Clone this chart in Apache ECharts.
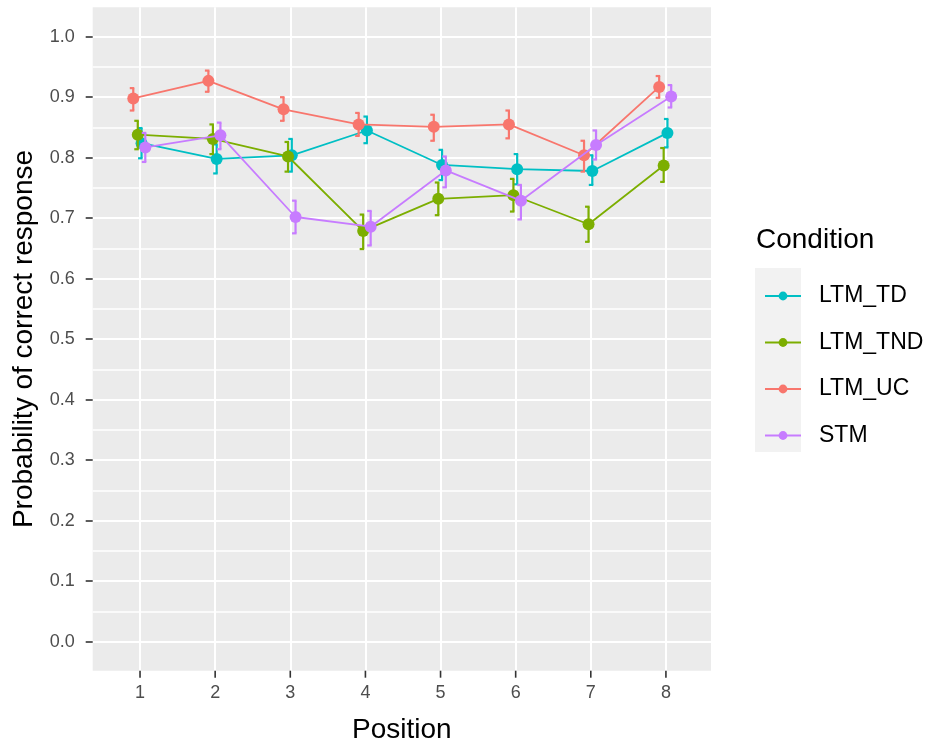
<!DOCTYPE html>
<html><head><meta charset="utf-8">
<script src="https://cdn.jsdelivr.net/npm/echarts@6/dist/echarts.min.js"></script>
<style>html,body{margin:0;padding:0;background:#fff}#c{width:927px;height:747px}</style>
</head><body><div id="c"></div>
<script>
// ---- data ----
const positions = [1, 2, 3, 4, 5, 6, 7, 8];
const conditions = ['LTM_TD', 'LTM_TND', 'LTM_UC', 'STM'];
const colors = ['#00BFC4', '#7CAE00', '#F8766D', '#C77CFF'];
const dodge = [0.02, -0.03, -0.09, 0.07];

const meanTD  = [0.824, 0.798, 0.804, 0.845, 0.788, 0.781, 0.778, 0.841];
const loTD    = [0.799, 0.774, 0.777, 0.824, 0.763, 0.756, 0.755, 0.817];
const hiTD    = [0.849, 0.822, 0.831, 0.868, 0.813, 0.806, 0.804, 0.864];

const meanTND = [0.838, 0.831, 0.802, 0.679, 0.732, 0.738, 0.690, 0.787];
const loTND   = [0.814, 0.806, 0.777, 0.649, 0.705, 0.711, 0.661, 0.760];
const hiTND   = [0.861, 0.855, 0.826, 0.706, 0.759, 0.765, 0.719, 0.816];

const meanUC  = [0.898, 0.927, 0.880, 0.855, 0.851, 0.855, 0.804, 0.917];
const loUC    = [0.878, 0.909, 0.861, 0.836, 0.828, 0.832, 0.777, 0.899];
const hiUC    = [0.915, 0.944, 0.900, 0.874, 0.871, 0.878, 0.828, 0.935];

const meanSTM = [0.817, 0.837, 0.702, 0.686, 0.779, 0.729, 0.821, 0.901];
const loSTM   = [0.793, 0.814, 0.675, 0.655, 0.751, 0.698, 0.797, 0.883];
const hiSTM   = [0.841, 0.858, 0.729, 0.712, 0.802, 0.755, 0.845, 0.920];

const yTicks = [0.0, 0.1, 0.2, 0.3, 0.4, 0.5, 0.6, 0.7, 0.8, 0.9, 1.0];
const yMinorTicks = [0.05, 0.15, 0.25, 0.35, 0.45, 0.55, 0.65, 0.75, 0.85, 0.95];
const X_MIN = 0.37, X_MAX = 8.6, Y_MIN = -0.0479, Y_MAX = 1.0486;

const means = [meanTD, meanTND, meanUC, meanSTM];
const los = [loTD, loTND, loUC, loSTM];
const his = [hiTD, hiTND, hiUC, hiSTM];

// ---- chart ----
const FONT = 'Liberation Sans, Arial, sans-serif';
const GRID = {left: 92.7, right: 216, top: 7.3, bottom: 76.3};
const chart = echarts.init(document.getElementById('c'), null, {renderer: 'canvas'});

const series = [];
conditions.forEach((name, k) => {
  series.push({
    name: name,
    type: 'line',
    xAxisIndex: 0, yAxisIndex: 0,
    data: positions.map((p, i) => [p + dodge[k], means[k][i]]),
    symbol: 'circle',
    symbolSize: 12,
    itemStyle: {color: colors[k]},
    lineStyle: {color: colors[k], width: 1.8},
    z: 3 + k,
    animation: false
  });
});
conditions.forEach((name, k) => {
  series.push({
    name: name + ' error',
    type: 'custom',
    xAxisIndex: 0, yAxisIndex: 0,
    data: positions.map((p, i) => [p + dodge[k], los[k][i], his[k][i]]),
    encode: {x: 0, y: [1, 2]},
    z: 3 + k,
    silent: true,
    animation: false,
    renderItem: function (params, api) {
      const x = api.value(0);
      const pLo = api.coord([x, api.value(1)]);
      const pHi = api.coord([x, api.value(2)]);
      const st = {stroke: colors[k], lineWidth: 2.2};
      return {type: 'group', children: [
        {type: 'line', shape: {x1: pLo[0], y1: pLo[1], x2: pHi[0], y2: pHi[1]}, style: st},
        {type: 'line', shape: {x1: pHi[0] - 3.5, y1: pHi[1], x2: pHi[0] + 1, y2: pHi[1]}, style: st},
        {type: 'line', shape: {x1: pLo[0] - 3.5, y1: pLo[1], x2: pLo[0] + 1, y2: pLo[1]}, style: st}
      ]};
    }
  });
});

const baseGraphic = [
  {type: 'rect', left: 755, top: 268, z: -1, shape: {width: 46, height: 184}, style: {fill: '#F2F2F2'}},
  {type: 'text', left: 756, top: 226, style: {text: 'Condition', font: '28px ' + FONT, fill: '#000'}}
];

chart.setOption({
  backgroundColor: '#ffffff',
  animation: false,
  textStyle: {fontFamily: FONT},
  grid: {left: GRID.left, right: GRID.right, top: GRID.top, bottom: GRID.bottom, show: true,
         backgroundColor: '#EBEBEB', borderWidth: 0, containLabel: false, outerBoundsMode: 'none'},
  xAxis: [{
    type: 'value', min: X_MIN, max: X_MAX, position: 'bottom',
    name: 'Position', nameLocation: 'middle', nameGap: 46,
    nameTextStyle: {fontSize: 28, color: '#000', fontFamily: FONT},
    axisLine: {show: false, onZero: false},
    axisTick: {show: false, customValues: positions},
    axisLabel: {show: true, customValues: positions, margin: 13, fontSize: 18, color: '#4D4D4D', fontFamily: FONT,
                formatter: v => String(v)},
    splitLine: {show: true, lineStyle: {color: '#FFFFFF', width: 2}}
  }],
  yAxis: [{
    type: 'value', min: Y_MIN, max: Y_MAX,
    name: 'Probability of correct response', nameLocation: 'middle', nameGap: 53, nameRotate: 90,
    nameTextStyle: {fontSize: 28, color: '#000', fontFamily: FONT},
    axisLine: {show: true, onZero: false, lineStyle: {color: 'rgba(0,0,0,0)', width: 0}},
    axisTick: {show: true, inside: false, customValues: yTicks, length: 7, lineStyle: {color: '#333333', width: 1.6}},
    axisLabel: {show: true, customValues: yTicks, margin: 18, fontSize: 18, color: '#4D4D4D', fontFamily: FONT,
                formatter: v => v.toFixed(1)},
    splitLine: {show: true, lineStyle: {color: '#FFFFFF', width: 2}}
  }, {
    type: 'value', min: Y_MIN, max: Y_MAX, position: 'left',
    axisLine: {show: false, onZero: false},
    axisTick: {show: false, customValues: yMinorTicks},
    axisLabel: {show: false, customValues: yMinorTicks},
    splitLine: {show: true, lineStyle: {color: '#FFFFFF', width: 1.5}}
  }],
  legend: {
    data: conditions,
    orient: 'vertical',
    left: 759, top: 277,
    itemWidth: 36, itemHeight: 11, itemGap: 18.5,
    selectedMode: false,
    textStyle: {fontSize: 23, color: '#000', fontFamily: FONT, lineHeight: 28, padding: [0, 0, 0, 13]}
  },
  graphic: baseGraphic,
  series: series
});

// x-axis tick marks below the panel; x from the chart's own x scale
try {
  const yBottom = 747 - GRID.bottom;
  const tickGraphic = positions.map(p => {
    const x = chart.convertToPixel({xAxisIndex: 0}, p);
    return {type: 'rect', z: 100, silent: true,
            shape: {x: x - 0.8, y: yBottom, width: 1.6, height: 7},
            style: {fill: '#333333'}};
  });
  chart.setOption({graphic: baseGraphic.concat(tickGraphic)});
} catch (e) {}
</script></body></html>
